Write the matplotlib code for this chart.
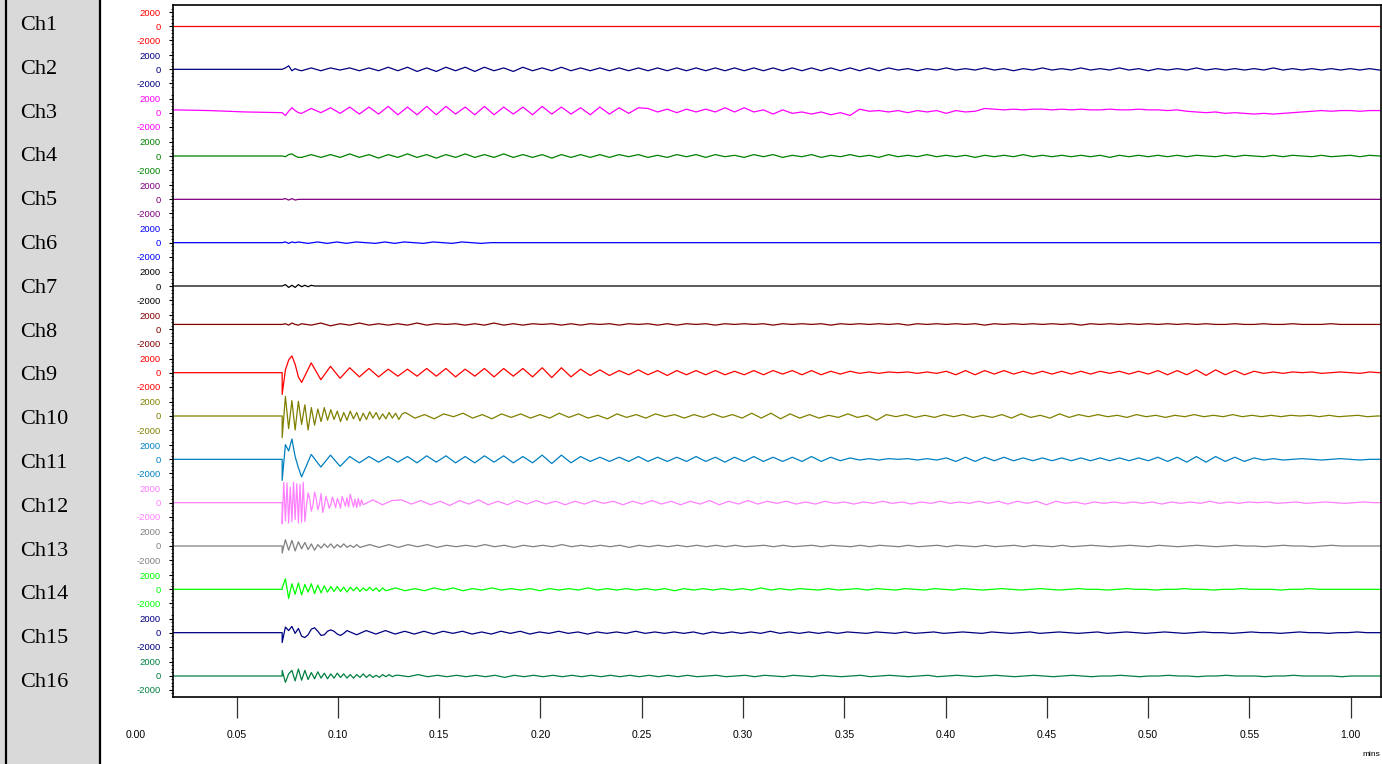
import numpy as np
import matplotlib.pyplot as plt
from matplotlib.patches import Rectangle
from matplotlib.lines import Line2D

plt.rcParams['font.family'] = ['Liberation Sans', 'DejaVu Sans']

channels = ['Ch%d' % i for i in range(1, 17)]
colors = ['#ff0000', '#000080', '#ff00ff', '#008000', '#800080', '#0000ff', '#000000', '#800000',
          '#ff0000', '#808000', '#0080c0', '#ff80ff', '#808080', '#00ff00', '#000080', '#008040']

# x axis is in seconds, labelled as min.sec
tick_secs = [0, 5, 10, 15, 20, 25, 30, 35, 40, 45, 50, 55, 60]
tick_labels = ['0.00', '0.05', '0.10', '0.15', '0.20', '0.25', '0.30', '0.35',
               '0.40', '0.45', '0.50', '0.55', '1.00']
y_ticks = [2000, 0, -2000]

t_start, t_end = 1.86, 61.5
t_onset = 7.25
slow_dt = 0.475
# sample step of the fast part after onset, per channel
fast_dts = [0.16, 0.16, 0.16, 0.16, 0.16, 0.16, 0.16, 0.16,
            0.16, 0.16, 0.16, 0.08, 0.16, 0.16, 0.16, 0.16]
unit = 100          # all trace values are in hundreds of counts
spacing = 6190      # vertical offset between channels

# per channel: level before onset, fast extremes after onset, slower extremes after that
ch1_pre, ch1_fast, ch1_slow = [0, 0], [], []

ch2_pre = [0, 0]
ch2_fast = [0, 2, 5, -2, 1, -1]
ch2_slow = [-2, 2, -2, 2, -1, 2, -2, 2, -2,
            3, -2, 3, -3, 2, -3, 3, -2, 3, -3, 3, -2, 2, -3, 3, -2, 2, -2, 3, -2, 2, -2,
            2, -2, 2, -2, 2, -2, 2, -2, 2, -2, 2, -2, 2, -2, 2, -2, 2, -2, 2, -2, 2, -2, 2, -2, 2, -2, 2, -2, 2, -2,
            2, -1, 1, -2, 1, -1, 2, -1, 1, -1, 2, -1, 1, -2, 1, -1, 2, -1, 1, -1, 2, -1, 1, -1, 2, -1, 1, -2, 1, -1,
            1, -1, 2, -1, 1, -1, 1, -1, 1, -1, 2, -1, 1, -1, 1, -1, 1, -1, 1, -1, 1, -1]

ch3_pre = [4, 3, 1, 0]
ch3_fast = [0, -4, 2, 7, 3, 0]
ch3_slow = [-1, 6, 0, 7, -1, 8, -2, 8, -2, 9, -3, 8, -3, 9,
            -3, 9, -2, 8, -3, 9, -3, 8, -2, 8, -3, 9, -2, 8, -2, 7, -3, 8, -2, 7, -1, 7,
            6, 1, 5, 0, 5, 1, 5, 1, 7, 1, 7, 1,
            4, -2, 4, -1, 1, -2, 1, -3, 0, -4, 5,
            2, 3, 1, 3, 0, 3, 1, 3, -1, 3, 1, 2, 6,
            5, 4, 5, 4, 5, 5, 4, 5, 4, 5, 4, 4, 5, 4, 4, 5, 4, 4, 3, 4,
            2, 1, 0, 1, -1, 0, -1, -2, -1, -2, -1, 0,
            1, 2, 3, 2, 3, 3, 2, 3, 3]

ch4_pre = [0, 0]
ch4_fast = [0, -1, 2, 3, 0, -2]
ch4_slow = [-2, 2, -2, 2, -2, 3, -2, 2, -3, 2, -2, 3, -2, 2, -3, 2, -2, 3, -2, 2, -2, 3, -2, 2, -2, 2, -3, 2, -2, 2, -2,
            2, -2, 2, -1, 2, -2, 1, -2, 2, -1, 2, -2, 2, -1, 1, -2, 2, -1, 2, -2, 1, -1, 2, -2, 1, -1, 2, -1, 1, -2,
            2, -1, 1, -1, 2, -1, 1, -1, 1, -2,
            1, -1, 1, -1, 2, -1, 1, -1, 1, -1, 1, -1, 1, -2, 1, -1, 1, -1, 1, -1, 1, -1, 1, 0, -1, 1, -1, 1, 0, -1,
            1, -1, 1, 0, -1, 1, -1, 0, 1, -1, 1, 0]

ch5_pre, ch5_fast, ch5_slow = [0, 0], [0, 1, -1, 1, -1, 0], []

ch6_pre = [0, 0]
ch6_fast = [0, 1, -1, 1, 0]
ch6_slow = [1, -1, 1, -1, 1, -1, 1, 0, -1, 1, -1, 1, 0, -1, 1, 0, -1, 1, 0, -1, 0]

ch7_pre, ch7_fast, ch7_slow = [0, 0], [0, 2, -2, 1, -2, 2, -1, 1, -1, 1, 0], []

ch8_pre = [7, 7]
ch8_fast = [7, 8, 6, 9, 7, 6]
ch8_slow = [8, 6, 9, 5, 8, 6, 9, 6, 8, 6, 8, 6, 9, 6, 8, 7, 8, 6, 8, 6, 9, 6, 8, 6, 8, 7, 8, 6, 8, 6,
            8, 7, 8, 6, 8, 7, 8, 6, 8, 6, 8, 7, 8, 6, 8, 7, 8, 7, 8, 6, 8, 7, 8, 7, 8, 6, 8, 7, 8, 7,
            8, 7, 8, 6, 8, 7, 8, 7, 8, 7, 8, 6, 8, 7, 8, 7, 8, 7, 8, 7, 8, 6, 8, 7, 8, 7, 8, 7, 8, 7,
            8, 7, 8, 7, 8, 7, 7, 8, 7, 7, 8, 7, 7, 8, 7, 7, 7, 8, 7, 7, 7, 7, 7]

ch9_pre = [0, 0]
ch9_fast = [-31, 4, 18, 24, 12, -6]
ch9_slow = [-14, 14, -10, 9, -8, 7, -6, 6, -6, 5, -5, 5,
            -5, 6, -5, 6, -6, 5, -5, 6, -6, 6, -5, 6, -6,
            7, -7, 7, -6, 5, -4, 4,
            -4, 3, -3, 4, -3, 3, -4, 3, -3,
            3, -3, 3, -3, 2, -3, 3, -3, 3, -2, 3, -3, 3, -3, 2, -2, 2,
            -1, 1, -1, 1, 0, 1, -1, 1, -1,
            2, -3, 3, -3, 3, -2, 3, -2, 2,
            -2, 2, -2, 2, -2, 2, -2, 2, -1, 2, -2, 2, -2,
            3, -3, 3, -3, 4, -4, 4, -3, 3, -3, 2,
            -1, 1, -1, 1, 0, 1, -1, 0, 1, 0, -1, 1, 0]

ch10_pre = [0, 0]
ch10_fast = [-31, 28, -18, 22, -20, 21, -12, 16, -20, 12, -13, 10, -8, 12, -6, 9, -5, 7, -8,
             5, -6, 7, -4, 5, -7, 4, -5, 6, -3, 5, -5, 3, -4, 5, -3, 4, -5, 3]
ch10_slow = [5, -3, 2, -4, 3, -1, 4, -3, 2, -4, 3, -2, 3, -3,
             2, -3, 4, -2, 3, -3, 1, -4, 3, -2, 2, -3, 3, -1, 2,
             -3, 2, -2, 3, -2, 2, -3, 4, -3, 4, -4, 3, -3,
             2, -3, 1, -2, 3, -2, 1, -6,
             2, -1, 2, -2, 1, -2, 2, -1, 2, -2, 1,
             -2, 2, -3, 3, -2, 1, -3, 3, -2, 2,
             -1, 2, -1, 1, -2, 2, -1, 1, -2, 1, -1, 2, -1, 1, -1,
             2, -1, 1, -1, 1, -1, 1, 0, 1, -1, 1, -1, 0, 1, -1, 0]

ch11_pre = [0, 0]
ch11_fast = [-30, 21, 12, 29, 4, -12]
ch11_slow = [-25, 7, -11, 6, -10, 4, -5, 4, -4, 4, -4, 4,
             -5, 5, -4, 5, -5, 4, -5, 5, -4, 5, -5, 4, -5,
             6, -6, 6, -5, 4, -3, 3,
             -3, 3, -3, 4, -3, 3, -3, 3, -3,
             4, -3, 3, -4, 3, -3, 4, -3, 3, -3, 3, -3, 4, -3, 3, -2, 2,
             -1, 1, -1, 1, 0, 1, -1, 1, -1,
             2, -3, 3, -3, 3, -2, 3, -2, 2,
             -2, 2, -2, 2, -2, 2, -2, 2, -2, 2, -2, 2, -2,
             3, -3, 3, -4, 4, -4, 4, -3, 3, -3, 2,
             -1, 1, -1, 0, 1, 0, -1, 0, 1, 0, -1, 0, 0]

ch12_pre = [0, 0]
ch12_fast = [-30, 29, -26, 28, -29, 22, -27, 29, -24, 27, -29, 26, -28, 29, -27,
             -4, 14, 5, -12, -3, 15, 6, -10, -2, 13, -14, -5, 9, 2, -8, -3, 8, 1, -7, 6,
             0, -8, 9, 2, -5, 7, -6, 12, 3, -6, 5, -7, 6, -5, 4]
ch12_slow = [-3, 4, -3, 3,
             4, -2, 3, -3, 2, -4, 3, -2, 4, -3, 2, -3, 3, -2,
             3, -2, 2, -3, 2, -2, 3, -1, 2, -3, 2, -2, 3, -2, 2,
             -3, 2, -2, 3, -3, 2, -2, 3, -2, 2, -1, 2, -2,
             1, -2, 2, -1, 1, -2, 1, -1, 2, -1, 1, -2, 1, -1, 2, -1, 1, -1, 2,
             -1, 2, -2, 2, -1, 2, -3, 2, -1, 1, -2, 1, -1, 1, -1,
             1, -1, 1, -2, 1, -1, 1, -1, 2, -1, 1, -1, 1, 0, 1, -1, 0, 1, -1, 0, 1, 0, -1, 0, 1, 0]

ch13_pre = [0, 0]
ch13_fast = [-10, 9, -6, 8, -7, 6, -4, 5, -5, 3, -6, 2, -3, 3, -2, 3, -3, 2, -2, 3, -2, 1, -2, 2]
ch13_slow = [-2, 2, -2, 2, -2, 2, -1, 2, -2, 1, -1,
             1, -1, 2, -1, 1, -2, 1, -1, 1, -1, 2, -1, 1, -1, 1, -1, 1, -2, 1, -1, 1, -1, 1, -1, 1, -1, 1, -1, 1, -1,
             0, 1, -1, 1, -1, 0, 1, -1, 1, 0, -1, 1, -1, 1, 0, -1, 1, -1, 0, 1, -1, 1, 0, -1, 1, -1, 0, 1, -1, 1,
             0, -1, 1, -1, 0,
             1, 0, -1, 0, 1, 0, -1, 1, 0, -1, 0, 1, 0, -1, 0, 1, 0, 0, -1, 0, 1, 0, 0, -1, 0, 1, 0, 0, 0, 0]

ch14_pre = [0, 0]
ch14_fast = [2, 15, -13, 8, -7, 9, -8, 7, -4, 8, -6, 6, -5, 5, -4, 4, -3, 4, -3, 3, -4, 3, -2, 3,
             -3, 2, -2, 3, -2, 2, -3, 2]
ch14_slow = [-2, 2, -2, 1, -2, 2, -1, 2, -2,
             1, -1, 2, -1, 1, -1, 1, -2, 1, -1, 1, -1, 2, -1, 1, -1, 1, -1, 1, -1, 1, -2, 1, -1, 1, -1, 1, -1,
             1, -1, 2, -1,
             1, -1, 1, 0, -1, 1, -1, 0, 1, -1, 1, 0, -1, 1, 0, -1, 1, 0, -1, 1, 0, -1, 0, 1, 0, -1, 0, 1, 0, -1,
             0, 1, 0, 0, -1, 0, 1, 0, 0, -1, 0, 0, 1, 0, 0, -1, 0, 0, 1, 0, 0, 0, -1, 0, 0, 1, 0, 0, 0, 0, 0, 0]

ch15_pre = [0, 0]
ch15_fast = [-14, 8, 3, 9, -1, 6, -5, -7, -3, 5, 7, 2, -4, -3, 2, 4, 2, -2, -4, -1]
ch15_slow = [3, -3, 3, -2, 3, -2,
             2, -2, 2, -2, 2, -1, 2, -2, 1, -2, 2, -1, 2, -2, 1,
             -1, 2, -1, 1, -2, 1, -1, 1, -1, 2, -1, 1, -1, 1, -1, 1, -2, 1, -1, 1, -1, 1, -1, 2, -1, 1, -1, 1,
             -1, 1, -1,
             1, 0, -1, 1, 0, -1, 1, -1, 0, 1, -1, 0, 1, 0, -1, 1, 0, -1, 0, 1, -1, 0, 1, 0, -1, 0, 1, -1, 0, 1,
             0, -1, 0, 1, 0, -1, 0, 1, 0, 0, -1, 0, 1, 0, 0, -1, 0, 1, 0, 0, -1, 0, 0, 1, 0, 0]

ch16_pre = [0, 0]
ch16_fast = [8, -9, 3, 8, -7, 10, -6, 8, -5, 5, -4, 6, -3, 4, -4, 3, -3, 4, -2, 3, -3, 2, -3, 2,
             -2, 3, -2, 2, -2, 1, -2, 2, -1, 2, -1, 1]
ch16_slow = [1, -1, 2, -1, 1, -1, 1, -1, 1, -1, 1, -2, 1, -1, 1, -1, 1, -1, 1, -1, 1, -1, 1, -1, 1, -1,
             1, -1, 1, -1, 1,
             -1, 0, 1, -1, 0, 1, -1, 1, 0, -1, 1, 0, -1, 1, 0, -1, 0, 1, -1, 0, 1, 0, -1, 0, 1, -1, 0, 1, 0,
             -1, 0, 1, 0, -1, 0, 1, 0, -1, 0, 1,
             0, -1, 0, 0, 1, 0, -1, 0, 0, 1, 0, 0, -1, 0, 0, 1, 0, 0, 0, -1, 0, 0, 1, 0, 0, 0, 0, -1, 0, 0, 0]

pres = [ch1_pre, ch2_pre, ch3_pre, ch4_pre, ch5_pre, ch6_pre, ch7_pre, ch8_pre,
        ch9_pre, ch10_pre, ch11_pre, ch12_pre, ch13_pre, ch14_pre, ch15_pre, ch16_pre]
fasts = [ch1_fast, ch2_fast, ch3_fast, ch4_fast, ch5_fast, ch6_fast, ch7_fast, ch8_fast,
         ch9_fast, ch10_fast, ch11_fast, ch12_fast, ch13_fast, ch14_fast, ch15_fast, ch16_fast]
slows = [ch1_slow, ch2_slow, ch3_slow, ch4_slow, ch5_slow, ch6_slow, ch7_slow, ch8_slow,
         ch9_slow, ch10_slow, ch11_slow, ch12_slow, ch13_slow, ch14_slow, ch15_slow, ch16_slow]

W, H = 1382, 764
fig = plt.figure(figsize=(W / 100, H / 100), dpi=100)

# grey label panel on the left
fig.add_artist(Rectangle((0, 0), 100 / W, 1, transform=fig.transFigure,
                         facecolor='#d9d9d9', edgecolor='none', zorder=0))
for xp in (6, 100):
    fig.add_artist(Line2D([xp / W, xp / W], [0, 1], transform=fig.transFigure,
                          color='black', lw=1.6))
for i, name in enumerate(channels):
    fig.text(20 / W, 1 - (30 + 43.8 * i) / H, name, family='Liberation Serif',
             fontsize=16, va='baseline', ha='left')

ax = fig.add_axes([173 / W, (H - 697) / H, (1381 - 173) / W, (697 - 5) / H])

for i in range(16):
    pre, fast, slow, fdt = pres[i], fasts[i], slows[i], fast_dts[i]
    t = list(np.linspace(t_start, t_onset, len(pre)))
    v = list(pre)
    t += [t_onset + fdt * k for k in range(len(fast))]
    v += fast
    t_s = t_onset + fdt * len(fast)
    t += [t_s + slow_dt * k for k in range(len(slow))]
    v += slow
    t.append(t_end)
    v.append(v[-1])
    y = np.array(v, dtype=float) * unit - i * spacing
    ax.plot(t, y, color=colors[i], lw=0.9)

ax.set_xlim(t_start, t_end)
ax.set_ylim(-(15 * spacing + 3000), 3000)

# per-channel y ticks
major, labels, lab_colors, minor = [], [], [], []
for i in range(16):
    for yt in y_ticks:
        major.append(yt - i * spacing)
        labels.append(str(yt))
        lab_colors.append(colors[i])
    for m in range(-2500, 3000, 500):
        minor.append(m - i * spacing)
ax.set_yticks(major)
ax.set_yticklabels(labels)
ax.set_yticks(minor, minor=True)
for lab, c in zip(ax.get_yticklabels(), lab_colors):
    lab.set_color(c)
ax.tick_params(axis='y', which='major', length=3, width=0.8, pad=6, labelsize=6.8)
ax.tick_params(axis='y', which='minor', length=1.5, width=0.6)

ax.set_xticks(tick_secs[1:])
ax.set_xticklabels(tick_labels[1:], family=['Liberation Sans Narrow', 'Liberation Sans'])
ax.tick_params(axis='x', length=15, width=0.9, color='#303030', pad=9, labelsize=7.5)
# 0.00 sits left of the plotted range, with no tick line
ax.annotate(tick_labels[0], xy=(tick_secs[0], 0), xycoords=('data', 'axes fraction'),
            xytext=(0, -24), textcoords='offset points', ha='center', va='top',
            fontsize=7.5, family=['Liberation Sans Narrow', 'Liberation Sans'],
            annotation_clip=False)

for s in ax.spines.values():
    s.set_linewidth(1.2)

fig.text(1380 / W, 1 - 755 / H, 'mins', fontsize=6, ha='right', va='center')

fig.savefig('out.png', dpi=100)
